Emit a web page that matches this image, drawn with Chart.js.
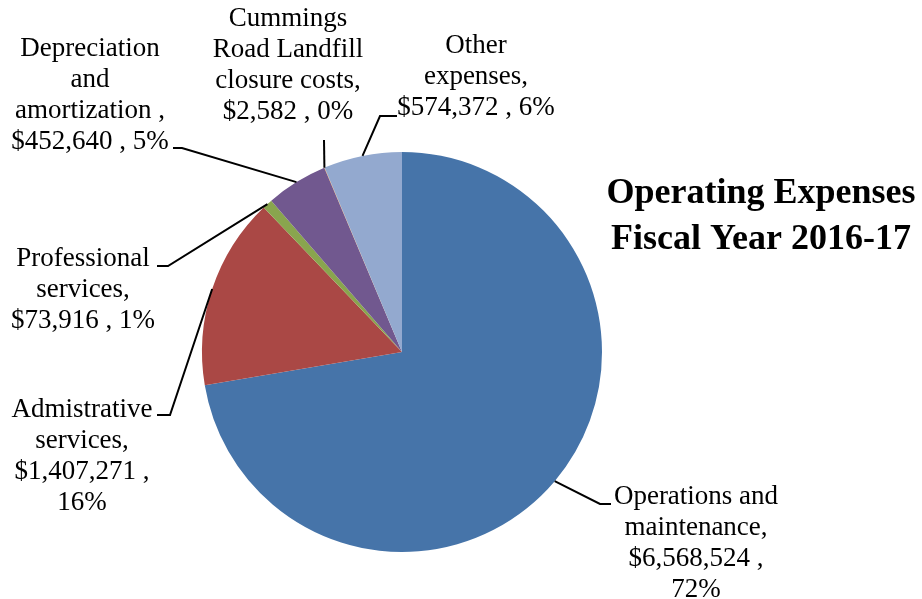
<!DOCTYPE html>
<html>
<head>
<meta charset="utf-8">
<script src="https://cdn.jsdelivr.net/npm/chart.js@4.4.1/dist/chart.umd.min.js"></script>
<style>
  html, body { margin: 0; padding: 0; background: #fff; }
  #wrap { width: 922px; height: 599px; }
</style>
</head>
<body>
<div id="wrap"><canvas id="pieChart" width="922" height="599"></canvas></div>
<script>
// data
var categories = ['Operations and maintenance', 'Admistrative services', 'Professional services',
                  'Depreciation and amortization', 'Cummings Road Landfill closure costs', 'Other expenses'];
var amounts = [6568524, 1407271, 73916, 452640, 2582, 574372];
var percentLabels = ['72%', '16%', '1%', '5%', '0%', '6%'];
var sliceColors = ['#4674A9', '#AA4845', '#89A54E', '#71588F', '#DB843D', '#93A9CF'];

// how each data label is broken into lines (text from the picture)
var labelLines = [
    ['Operations and', 'maintenance,', '$6,568,524 ,', '72%'],
    ['Admistrative', 'services,', '$1,407,271 ,', '16%'],
    ['Professional', 'services,', '$73,916 , 1%'],
    ['Depreciation', 'and', 'amortization ,', '$452,640 , 5%'],
    ['Cummings', 'Road Landfill', 'closure costs,', '$2,582 , 0%'],
    ['Other', 'expenses,', '$574,372 , 6%']
];
// label placement: text centre x, first line middle y, leader elbow and leader end
var labelLayout = [
    { tx: 696, ty: 497, elbow: [600, 504], end: [611, 504] },
    { tx: 82,  ty: 410, elbow: [170, 415], end: [157, 415] },
    { tx: 83,  ty: 259, elbow: [168, 266], end: [157, 266] },
    { tx: 90,  ty: 49,  elbow: [182, 148], end: [173, 148] },
    { tx: 288, ty: 19,  elbow: [324, 140], end: [324, 140] },
    { tx: 476, ty: 46,  elbow: [380, 116], end: [397, 116] }
];
var titleLines = ['Operating Expenses', 'Fiscal Year 2016-17'];

var labelPlugin = {
    id: 'pieLabels',
    afterDatasetsDraw: function(chart) {
        var ctx = chart.ctx;
        var arcs = chart.getDatasetMeta(0).data;
        ctx.save();
        ctx.strokeStyle = '#000';
        ctx.lineWidth = 2;
        arcs.forEach(function(arc, i) {
            var lay = labelLayout[i];
            var mid = (arc.startAngle + arc.endAngle) / 2;
            var sx = arc.x + Math.cos(mid) * arc.outerRadius;
            var sy = arc.y + Math.sin(mid) * arc.outerRadius;
            ctx.beginPath();
            ctx.moveTo(sx, sy);
            ctx.lineTo(lay.elbow[0], lay.elbow[1]);
            ctx.lineTo(lay.end[0], lay.end[1]);
            ctx.stroke();

            ctx.fillStyle = '#000';
            ctx.font = '27px "Liberation Serif", "Times New Roman", serif';
            ctx.textAlign = 'center';
            ctx.textBaseline = 'middle';
            labelLines[i].forEach(function(line, j) {
                ctx.fillText(line, lay.tx, lay.ty + j * 31);
            });
        });

        ctx.font = 'bold 36px "Liberation Serif", "Times New Roman", serif';
        ctx.textAlign = 'center';
        ctx.textBaseline = 'middle';
        ctx.fillStyle = '#000';
        titleLines.forEach(function(line, j) {
            ctx.fillText(line, 761, 194 + j * 46);
        });
        ctx.restore();
    }
};

var pieChart = document.getElementById('pieChart').getContext('2d');

var pieChart = new Chart(pieChart, {
    type: 'pie',
    data: {
        labels: categories,
        datasets: [{
            data: amounts,
            backgroundColor: sliceColors,
            borderWidth: 0
        }]
    },
    options: {
        responsive: false,
        animation: false,
        layout: { padding: { left: 202, right: 320, top: 152, bottom: 47 } },
        plugins: {
            legend: { display: false },
            tooltip: { enabled: false }
        }
    },
    plugins: [labelPlugin]
});
</script>
</body>
</html>
